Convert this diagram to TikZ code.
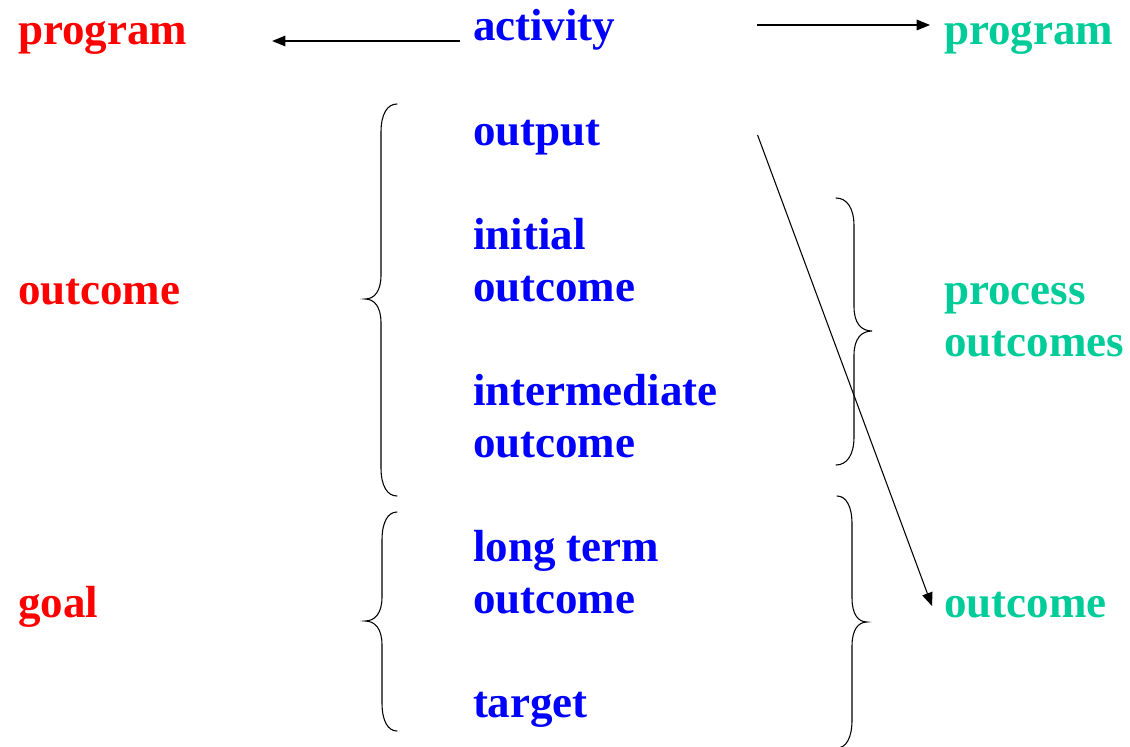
\documentclass[tikz,border=0pt]{standalone}
\usepackage{fontspec}
\setmainfont{Liberation Serif}
\usetikzlibrary{arrows.meta,calc}
\definecolor{cred}{RGB}{255,0,0}
\definecolor{cblue}{RGB}{0,0,255}
\definecolor{cgreen}{RGB}{0,204,153}
\newcommand{\drawBrace}[6]{% E, V, T, Y1, Y2, Y3
  \draw[bracestyle] (#1,#4) .. controls ({#2+0.4*(#1-#2)},#4) and (#2,{#4+10}) .. (#2,{#4+28})
    -- (#2,{#5-24}) .. controls (#2,{#5-8}) and ({#2-0.4*(#2-#3)},#5) .. (#3,#5)
    .. controls ({#2-0.4*(#2-#3)},#5) and (#2,{#5+8}) .. (#2,{#5+24})
    -- (#2,{#6-28}) .. controls (#2,{#6-10}) and ({#2+0.4*(#1-#2)},#6) .. (#1,#6);}
\begin{document}
\begin{tikzpicture}[x=0.75pt,y=-0.75pt,
  lbl/.style={inner sep=0pt,outer sep=0pt,anchor=base west,align=left,
    font=\fontsize{33.75}{39}\selectfont\bfseries},
  redt/.style={lbl,text=cred},
  bluet/.style={lbl,text=cblue},
  greent/.style={lbl,text=cgreen},
  arr/.style={line width=0.8pt,-{Triangle[length=10pt,width=8pt]}},
  bracestyle/.style={line width=0.8pt,line cap=round}]
\useasboundingbox[fill=white] (0,0) rectangle (1130,746);
% left column
\node[redt] (progL) at (18,44) {program};
\node[redt] (outL) at (18,304) {outcome};
\node[redt] (goalL) at (18,617) {goal};
% middle column (base anchor = baseline of last line)
\node[bluet] (activity) at (473,40) {activity};
\node[bluet] (output) at (473,145) {output};
\node[bluet] (initial) at (473,301) {initial\\outcome};
\node[bluet] (inter) at (473,457) {intermediate\\outcome};
\node[bluet] (longterm) at (473,613) {long term\\outcome};
\node[bluet] (target) at (473,717) {target};
% right column
\node[greent] (progR) at (944,44) {program};
\node[greent] (process) at (944,356) {process\\outcomes};
\node[greent] (outR) at (944,617) {outcome};
% connectors
\draw[arr] ($(activity.base west)+(-13,1)$) -- ($(progL.base east)+(85,-3)$);
\draw[arr] ($(activity.base east)+(142,-15)$) -- ($(progR.base west)+(-14,-19)$);
\draw[arr] ($(output.base east)+(157,-10)$) -- ($(outR.base west)+(-12,-11)$);
% braces
\drawBrace{397}{381}{365}{104}{299}{496}
\drawBrace{397}{382}{365}{512}{621}{731}
\drawBrace{836}{854}{872}{198}{331}{465}
\drawBrace{837}{852}{867}{496}{622}{748}
\end{tikzpicture}
\end{document}
